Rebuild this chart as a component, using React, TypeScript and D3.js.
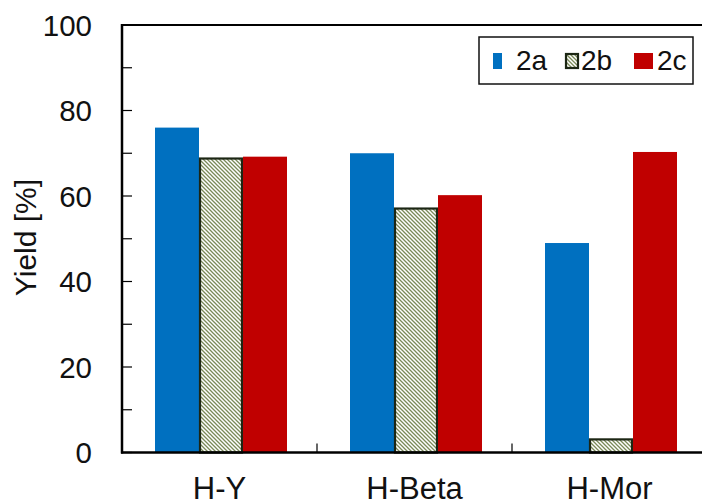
import React from "react";
import * as d3 from "d3";

const categories = ["H-Y", "H-Beta", "H-Mor"];
const seriesNames = ["2a", "2b", "2c"];
const yield2a = [76, 70, 49];
const yield2b = [69, 57.3, 3.3];
const yield2c = [69.2, 60.2, 70.3];
const yTicks = [0, 20, 40, 60, 80, 100];
const yMinorTicks = d3.range(0, 101, 10);

const W = 702;
const H = 503;
const left = 122;
const top = 25;
const bottom = 452.5;
const right = 707;

const FONT = "'Liberation Sans', Arial, sans-serif";

export default function App() {
  const x0 = d3.scaleBand<string>().domain(categories).range([left, right]).paddingInner(0).paddingOuter(0);
  // bars sit slightly left of centre within each category
  const x1 = d3.scaleBand<string>().domain(seriesNames).range([33, 165]).padding(0);
  const y = d3.scaleLinear().domain([0, 100]).range([bottom, top]);

  const seriesValues: Record<string, number[]> = { "2a": yield2a, "2b": yield2b, "2c": yield2c };
  const fills: Record<string, string> = { "2a": "#0070C0", "2b": "url(#hatch)", "2c": "#C00000" };

  return (
    <div style={{ position: "absolute", left: 0, top: 0 }}>
      <svg width={W} height={H} style={{ display: "block", background: "#fff" }}>
        <defs>
          <pattern id="hatch" patternUnits="userSpaceOnUse" width={4} height={4}>
            <rect width={4} height={4} fill="#fff" />
            <path d="M-1,-1 L5,5 M-1,3 L1,5 M3,-1 L5,1" stroke="#7a8a58" strokeWidth={1.3} />
          </pattern>
        </defs>

        {/* bars */}
        {categories.map((c, ci) =>
          seriesNames.map((s) => {
            const v = seriesValues[s][ci];
            const bx = (x0(c) ?? 0) + (x1(s) ?? 0);
            const bw = x1.bandwidth();
            const isHatch = s === "2b";
            return (
              <rect
                key={c + s}
                x={isHatch ? bx + 1 : bx}
                y={isHatch ? y(v) + 1 : y(v)}
                width={isHatch ? bw - 2 : bw}
                height={isHatch ? bottom - y(v) - 1 : bottom - y(v)}
                fill={fills[s]}
                stroke={isHatch ? "#1c2614" : "none"}
                strokeWidth={isHatch ? 2.2 : 0}
              />
            );
          })
        )}

        {/* frame */}
        <line x1={left} x2={W} y1={top} y2={top} stroke="#000" strokeWidth={2.2} />
        <line x1={left} x2={left} y1={top - 1} y2={bottom + 1} stroke="#000" strokeWidth={2.5} />
        <line x1={left - 1} x2={W} y1={bottom} y2={bottom} stroke="#000" strokeWidth={2.5} />

        {/* y ticks */}
        {yMinorTicks.map((t) => (
          <line key={"yt" + t} x1={left} x2={left + 10} y1={y(t)} y2={y(t)} stroke="#000" strokeWidth={1.2} />
        ))}
        {yTicks.map((t) => (
          <text
            key={"yl" + t}
            x={92}
            y={y(t)}
            dy="0.36em"
            textAnchor="end"
            fontFamily={FONT}
            fontSize={29.5}
            fill="#111"
          >
            {t}
          </text>
        ))}

        {/* x ticks between categories */}
        {categories.slice(1).map((c) => (
          <line
            key={"xt" + c}
            x1={x0(c) ?? 0}
            x2={x0(c) ?? 0}
            y1={bottom}
            y2={bottom - 9}
            stroke="#000"
            strokeWidth={1.2}
          />
        ))}
        {categories.map((c) => (
          <text
            key={"xl" + c}
            x={(x0(c) ?? 0) + x0.bandwidth() / 2}
            y={499}
            textAnchor="middle"
            fontFamily={FONT}
            fontSize={31}
            fill="#111"
          >
            {c}
          </text>
        ))}

        {/* y axis title */}
        <text
          transform="translate(36,237.5) rotate(-90)"
          textAnchor="middle"
          fontFamily={FONT}
          fontSize={30}
          fill="#111"
        >
          Yield [%]
        </text>

        {/* legend */}
        <rect x={479} y={37} width={214} height={47} fill="#fff" stroke="#111" strokeWidth={1.5} />
        <rect x={493} y={53} width={9} height={16} fill="#0070C0" />
        <text x={516} y={70} fontFamily={FONT} fontSize={28} fill="#111">2a</text>
        <rect x={566} y={54} width={12} height={14} fill="url(#hatch)" stroke="#1c2614" strokeWidth={2.2} />
        <text x={581} y={70} fontFamily={FONT} fontSize={28} fill="#111">2b</text>
        <rect x={634} y={53} width={19} height={16} fill="#C00000" />
        <text x={657} y={70} fontFamily={FONT} fontSize={28} fill="#111">2c</text>
      </svg>
    </div>
  );
}
